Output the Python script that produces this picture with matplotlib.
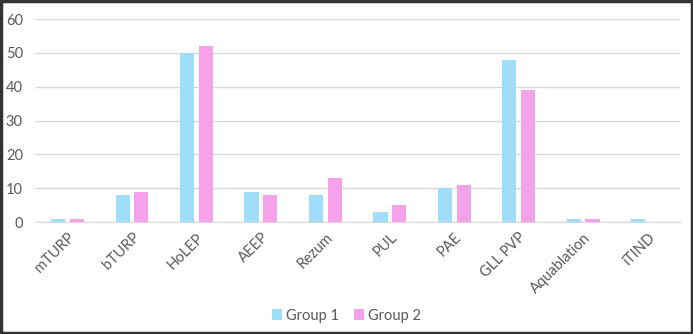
import numpy as np
import matplotlib
matplotlib.use("Agg")
import matplotlib.pyplot as plt

categories = ["mTURP", "bTURP", "HoLEP", "AEEP", "Rezum", "PUL", "PAE",
              "GLL PVP", "Aquablation", "iTIND"]
group1 = [1, 8, 50, 9, 8, 3, 10, 48, 1, 1]
group2 = [1, 9, 52, 8, 13, 5, 11, 39, 1, 0]
yticks = [0, 10, 20, 30, 40, 50, 60]

plt.rcParams['font.family'] = ['Lato', 'DejaVu Sans']

fig = plt.figure(figsize=(6.93, 3.34), dpi=100)
ax = fig.add_axes([0.051, 0.335, 0.930, 0.608])

x = np.arange(len(categories))
w = 0.22
off = 0.145
ax.bar(x - off, group1, w, color="#a0ddf9", label="Group 1", zorder=3)
ax.bar(x + off, group2, w, color="#f5a2ea", label="Group 2", zorder=3)

ax.set_xlim(-0.5, len(categories) - 0.5)
ax.set_ylim(0, 60)
ax.set_yticks(yticks)
ax.yaxis.grid(True, color="#d9d9d9", linewidth=1, zorder=0)
ax.set_axisbelow(True)
for s in ["top", "right", "left"]:
    ax.spines[s].set_visible(False)
ax.spines["bottom"].set_color("#d9d9d9")
ax.tick_params(axis="both", length=0, colors="#595959", labelsize=10.5)
ax.tick_params(axis="y", pad=9)
ax.tick_params(axis="x", pad=6)
ax.set_xticks(x)
ax.set_xticklabels(categories, rotation=45, ha="right", rotation_mode="anchor")

fig.legend(loc="lower center", bbox_to_anchor=(0.5, -0.005), ncol=2, frameon=False,
           fontsize=10.5, handlelength=0.7, handleheight=0.7, columnspacing=1.0,
           handletextpad=0.3, labelcolor="#595959")

fig.patches.append(plt.Rectangle((0.0015, 0.003), 0.997, 0.994, transform=fig.transFigure,
                                 fill=False, edgecolor="#333333", linewidth=2.5))

fig.savefig("out.png", dpi=100)
